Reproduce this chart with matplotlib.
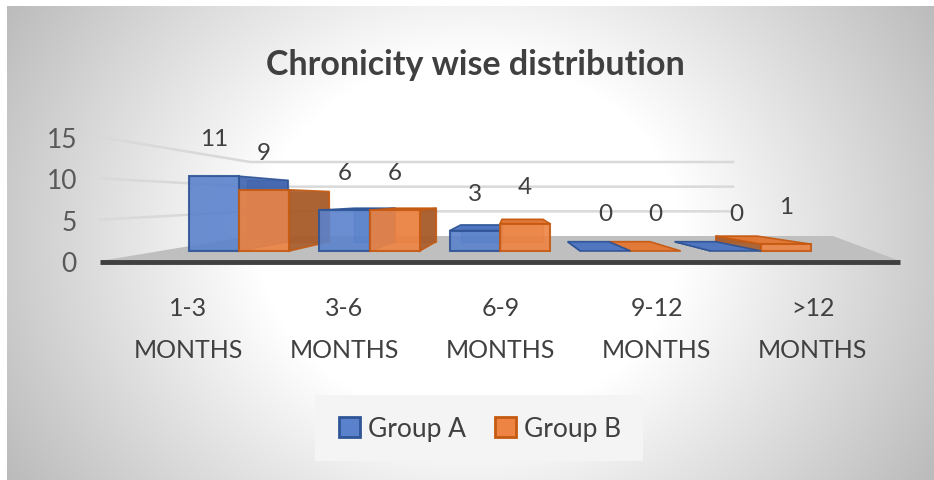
import numpy as np
import matplotlib
matplotlib.use("Agg")
import matplotlib.pyplot as plt
from matplotlib.patches import Polygon, Rectangle, Patch

# data
categories = ["1-3\nMONTHS", "3-6\nMONTHS", "6-9\nMONTHS", "9-12\nMONTHS", ">12\nMONTHS"]
group_a = [11, 6, 3, 0, 0]
group_b = [9, 6, 4, 0, 1]
series_names = ["Group A", "Group B"]
y_ticks = [0, 5, 10, 15]

W, H = 934, 481
plt.rcParams['font.family'] = ['Lato', 'DejaVu Sans']
fig = plt.figure(figsize=(W / 100, H / 100), dpi=100)


def frect(x0, y0, x1, y1):
    # pixel box (origin top-left) -> figure fraction rect
    return [x0 / W, 1 - y1 / H, (x1 - x0) / W, (y1 - y0) / H]


# background with radial grey gradient
bg = fig.add_axes([0, 0, 1, 1])
bg.set_xlim(0, W)
bg.set_ylim(H, 0)
bg.axis('off')
xx, yy = np.meshgrid(np.arange(W), np.arange(H))
r = np.sqrt(((xx - 470) / 470) ** 2 + ((yy - 240) / 400) ** 2)
shade = (255 - 70 * np.clip((r - 0.45) / 0.72, 0, 1)) / 255
img = np.dstack([shade] * 3)
img[:7, :] = 1
img[:, :7] = 1
bg.imshow(img, extent=(0, W, H, 0), aspect='auto', zorder=0)

# walls: gridlines on the left and back wall
def y_left(v):
    return 262 - v * 124 / 15


def y_back(v):
    return 237 - v * 74 / 15


for v in y_ticks[1:]:
    bg.plot([100, 250, 733], [y_left(v), y_back(v), y_back(v)],
            color='#D9D9D9', lw=1.8, zorder=1)

# floor
bg.add_patch(Polygon([(100, 262), (250, 237), (833, 237), (900, 262)],
                     closed=True, fc='#BFBFBF', ec='none', zorder=1))
bg.plot([100, 900], [263, 263], color='#404040', lw=3.5,
        solid_capstyle='butt', zorder=2)

# title
bg.text(475, 65, "Chronicity wise distribution", ha='center', va='center',
        fontsize=24.5, fontweight='bold', color='#404040', zorder=3)

# legend box
bg.add_patch(Rectangle((315, 396), 328, 66, fc='#F4F4F4', ec='none', zorder=1))

# bars in pseudo 3D
ax = fig.add_axes(frect(173.75, 150, 826.25, 252))
ax.set_xlim(-0.5, 4.5)
ax.set_ylim(0, 15)
ax.axis('off')
ax.patch.set_alpha(0)

vp = (2.08, 7.6)   # vanishing point (data units)
f = 0.18           # depth factor


def back(x, y):
    return (x + (vp[0] - x) * f, y + (vp[1] - y) * f)


w = 0.385
x = np.arange(len(categories))
styles = [
    dict(front='#5A82CC', edge='#2F5597', side='#3D62AD', top='#4A72C0'),
    dict(front='#EE8443', edge='#C55A11', side='#A85B2A', top='#E37632'),
]
bars_a = ax.bar(x - w / 2, group_a, w)
bars_b = ax.bar(x + w / 2, group_b, w)

for i in range(len(categories)):
    pair = [(bars_a[i], styles[0], group_a[i]), (bars_b[i], styles[1], group_b[i])]
    if x[i] > vp[0]:
        pair = pair[::-1]
    for k, (rect, st, val) in enumerate(pair):
        z = 10 + i * 10 + k * 5
        x0 = rect.get_x()
        x1 = x0 + rect.get_width()
        h = rect.get_height()
        # back face outline (seen through the transparent box)
        bx0, by0 = back(x0, 0)
        bx1, by1 = back(x1, h)
        ax.add_patch(Polygon([(bx0, by0), (bx1, by0), (bx1, by1), (bx0, by1)],
                             closed=True, fc=st['side'], ec=st['edge'],
                             lw=1, alpha=0.5, zorder=z, clip_on=False))
        # side face
        if x1 < vp[0]:
            xs = x1
        elif x0 > vp[0]:
            xs = x0
        else:
            xs = None
        if xs is not None:
            ax.add_patch(Polygon([(xs, 0), (xs, h), back(xs, h), back(xs, 0)],
                                 closed=True, fc=st['side'], ec=st['edge'],
                                 lw=1.2, alpha=0.9, zorder=z + 1, clip_on=False))
        # top face
        if h < vp[1]:
            ax.add_patch(Polygon([(x0, h), (x1, h), back(x1, h), back(x0, h)],
                                 closed=True, fc=st['top'], ec=st['edge'],
                                 lw=1.2, alpha=0.95, zorder=z + 2, clip_on=False))
        # front face
        rect.set_facecolor(st['front'])
        rect.set_edgecolor(st['edge'])
        rect.set_linewidth(1.5)
        rect.set_alpha(0.9 if h > 0 else 0)
        rect.set_zorder(z + 3)
        rect.set_clip_on(False)
        ax.annotate(str(val), (x0 + w / 2, h), xytext=(0, 27),
                    textcoords='offset points', ha='center', va='center',
                    fontsize=17.5, color='#404040', zorder=100,
                    annotation_clip=False)

# value axis labels (left wall)
axy = fig.add_axes(frect(95, 138, 100, 262))
axy.set_ylim(0, 15)
axy.set_yticks(y_ticks)
axy.set_xticks([])
axy.tick_params(axis='y', length=0, pad=13, labelsize=19, labelcolor='#595959')
for s in axy.spines.values():
    s.set_visible(False)
axy.patch.set_alpha(0)

# category labels (front of floor)
axc = fig.add_axes(frect(110, 250, 891, 262))
axc.set_xlim(-0.5, 4.5)
axc.set_xticks(x)
axc.set_xticklabels(categories, linespacing=2.0)
axc.set_yticks([])
axc.tick_params(axis='x', length=0, pad=25, labelsize=18, labelcolor='#404040')
for s in axc.spines.values():
    s.set_visible(False)
axc.patch.set_alpha(0)

# legend
handles = [Patch(fc=styles[0]['front'], ec=styles[0]['edge'], lw=2),
           Patch(fc=styles[1]['front'], ec=styles[1]['edge'], lw=2)]
fig.legend(handles=handles, labels=series_names, loc='center',
           bbox_to_anchor=(480 / W, 1 - 430 / H), ncol=2, frameon=False,
           fontsize=19, handlelength=0.8, handleheight=0.8,
           handletextpad=0.3, columnspacing=1.1, labelcolor='#404040')

fig.savefig('out.png', dpi=100)
